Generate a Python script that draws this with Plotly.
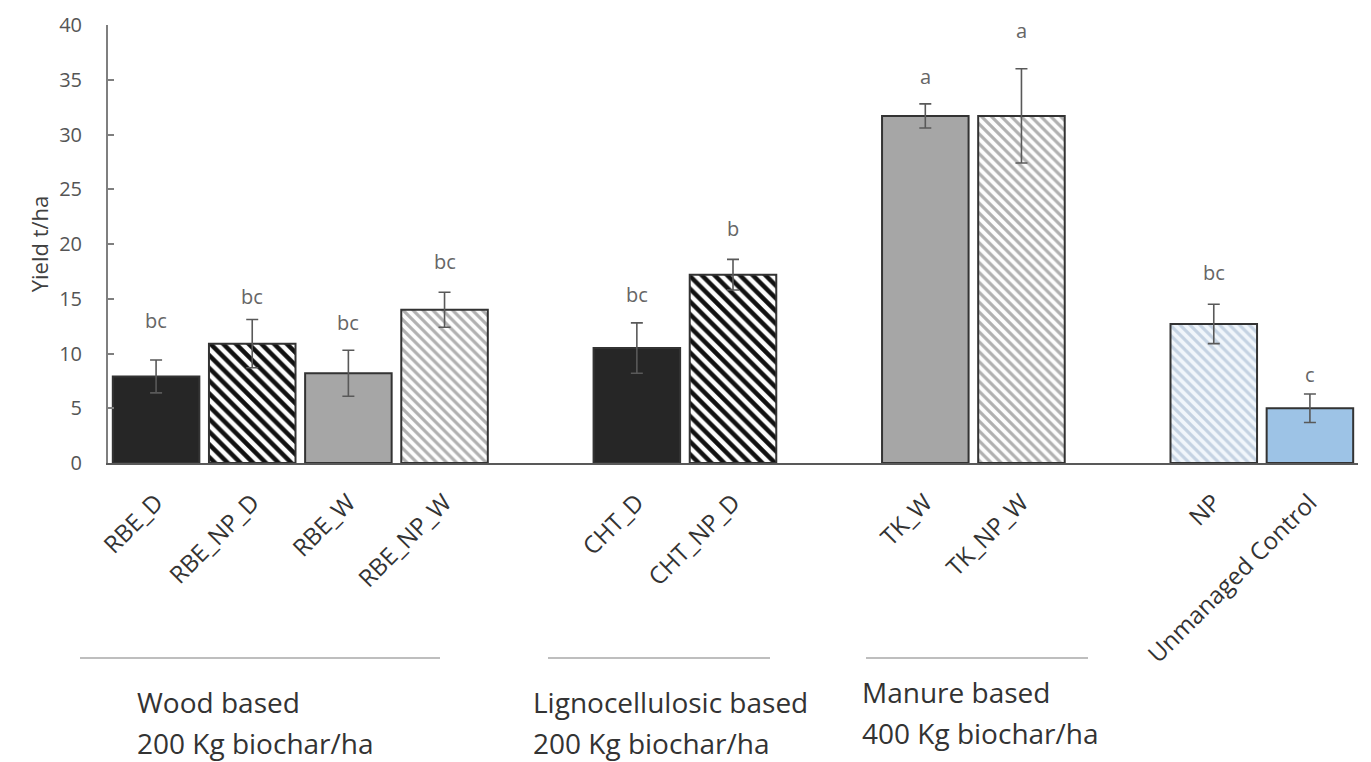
import plotly.graph_objects as go

categories = ["RBE_D", "RBE_NP_D", "RBE_W", "RBE_NP_W",
              "CHT_D", "CHT_NP_D", "TK_W", "TK_NP_W",
              "NP", "Unmanaged Control"]
yield_mean = [7.9, 10.9, 8.2, 14.0, 10.5, 17.2, 31.7, 31.7, 12.7, 5.0]
yield_err = [1.5, 2.2, 2.1, 1.6, 2.3, 1.4, 1.1, 4.3, 1.8, 1.3]
letters = ["bc", "bc", "bc", "bc", "bc", "b", "a", "a", "bc", "c"]
letter_y = [13.0, 15.2, 12.8, 18.4, 15.4, 21.4, 35.3, 39.5, 17.4, 8.1]
axis_order = ["RBE_D", "RBE_NP_D", "RBE_W", "RBE_NP_W", " ",
              "CHT_D", "CHT_NP_D", "  ", "TK_W", "TK_NP_W", "   ",
              "NP", "Unmanaged Control"]
group_line1 = ["Wood based", "Lignocellulosic based", "Manure based"]
group_line2 = ["200 Kg biochar/ha", "200 Kg biochar/ha", "400 Kg biochar/ha"]
y_ticks = [0, 5, 10, 15, 20, 25, 30, 35, 40]

# styles per bar: (pattern shape, fg colour, bg colour, pattern size, solidity)
DARK = "#262626"
GREY = "#a6a6a6"
BLUE = "#9dc3e6"
style = {
    "RBE_D": ("", DARK, DARK, 8, 0.4),
    "RBE_NP_D": ("\\", "#111111", "#fdfdfd", 9, 0.5),
    "RBE_W": ("", GREY, GREY, 8, 0.4),
    "RBE_NP_W": ("\\", "#b0b0b0", "#fdfdfd", 7, 0.45),
    "CHT_D": ("", DARK, DARK, 8, 0.4),
    "CHT_NP_D": ("\\", "#111111", "#fdfdfd", 9, 0.5),
    "TK_W": ("", GREY, GREY, 8, 0.4),
    "TK_NP_W": ("\\", "#b0b0b0", "#fdfdfd", 7, 0.45),
    "NP": ("\\", "#c4d2e2", "#f1f6fb", 7, 0.45),
    "Unmanaged Control": ("", BLUE, BLUE, 8, 0.4),
}

FONT = "Open Sans"

fig = go.Figure()
for c, v, e in zip(categories, yield_mean, yield_err):
    shp, fgc, bgc, sz, sol = style[c]
    if shp:
        marker = dict(color=bgc, line=dict(color="#333333", width=2),
                      pattern=dict(shape=shp, fgcolor=fgc, bgcolor=bgc,
                                   size=sz, solidity=sol, fillmode="replace"))
    else:
        marker = dict(color=bgc, line=dict(color="#333333", width=2))
    fig.add_trace(go.Bar(
        x=[c], y=[v], width=0.9, marker=marker,
        error_y=dict(type="data", array=[e], visible=True,
                     color="#595959", thickness=1.6, width=6),
        showlegend=False, name=c,
    ))

for c, l, ly in zip(categories, letters, letter_y):
    fig.add_annotation(x=c, y=ly, xref="x", yref="y", text=l, showarrow=False,
                       font=dict(size=20, color="#666666", family=FONT))

# group separators and labels (paper coordinates)
plot_left, plot_right, plot_top, plot_bottom = 108, 1358, 25, 463
W = plot_right - plot_left
H = plot_bottom - plot_top


def px(xp):
    return (xp - plot_left) / W


def py(yp):
    return (plot_bottom - yp) / H


line_spans = [(80, 440), (548, 770), (866, 1088)]
text_left = [135, 531, 860]
text_top = [702, 702, 692]
for (x0, x1), tl, tt, t1, t2 in zip(line_spans, text_left, text_top, group_line1, group_line2):
    fig.add_shape(type="line", xref="paper", yref="paper",
                  x0=px(x0), x1=px(x1), y0=py(658), y1=py(658),
                  line=dict(color="#a8a8a8", width=1.5))
    fig.add_annotation(xref="paper", yref="paper", x=px(tl), y=py(tt), text=t1,
                       showarrow=False, xanchor="left", yanchor="middle",
                       font=dict(size=28, color="#333333", family=FONT))
    fig.add_annotation(xref="paper", yref="paper", x=px(tl), y=py(tt + 41), text=t2,
                       showarrow=False, xanchor="left", yanchor="middle",
                       font=dict(size=28, color="#333333", family=FONT))

fig.update_layout(
    width=1371, height=762,
    margin=dict(l=plot_left, r=1371 - plot_right, t=plot_top, b=762 - plot_bottom),
    paper_bgcolor="white", plot_bgcolor="white",
    font=dict(family=FONT, color="#404040"),
    barmode="overlay",
    xaxis=dict(type="category", categoryorder="array", categoryarray=axis_order,
               range=[-0.5, 12.5], tickangle=-45, showgrid=False,
               showline=True, linecolor="#595959", linewidth=2,
               ticks="", tickfont=dict(size=24, color="#333333"),
               ticklabelstandoff=14),
    yaxis=dict(range=[0, 40], tickvals=y_ticks, showgrid=False, zeroline=False,
               showline=True, linecolor="#7f7f7f", linewidth=2,
               ticks="inside", ticklen=6, tickcolor="#7f7f7f", tickwidth=1.5,
               tickfont=dict(size=20, color="#555555"),
               ticklabelstandoff=20,
               title=dict(text="Yield t/ha", font=dict(size=22, color="#404040"),
                          standoff=4)),
)

fig.write_html("out.html")
